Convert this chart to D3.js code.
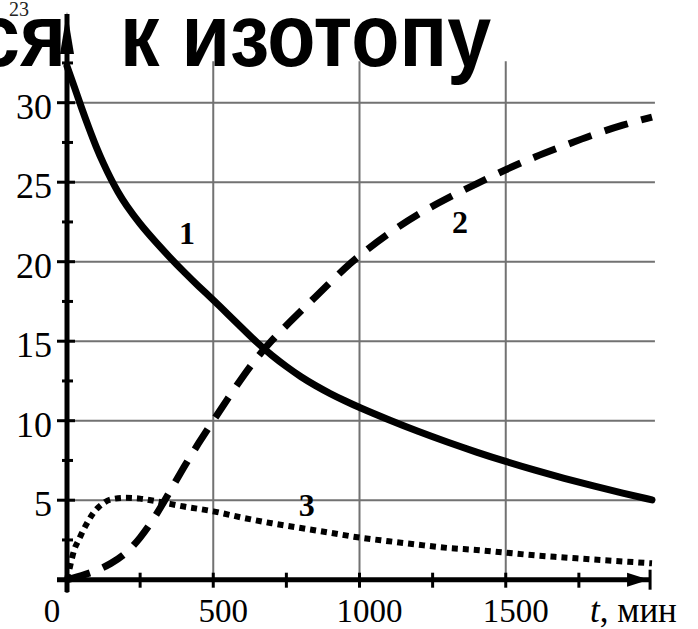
<!DOCTYPE html>
<html>
<head>
<meta charset="utf-8">
<script src="https://cdn.jsdelivr.net/npm/d3@7/dist/d3.min.js"></script>
<style>
  html, body { margin: 0; padding: 0; background: #fff; }
  svg { display: block; }
</style>
</head>
<body>
<svg id="chart" width="698" height="629"></svg>
<script>
// Time axis, minutes
const tGrid = [500, 1000, 1500];
const tTicks = [0, 250, 500, 750, 1000, 1250, 1500, 1750];
const tLabels = ["0", "500", "1000", "1500"];
// Amount axis, units of 10^23
const nGrid = [5, 10, 15, 20, 25, 30];
const nMinor = [2.5, 7.5, 12.5, 17.5, 22.5, 27.5, 32.5];
const nLabels = ["5", "10", "15", "20", "25", "30"];

// Curve 1: parent nuclide (solid)
const t1 = [0, 25, 50, 75, 100, 125, 150, 175, 200, 250, 300, 350, 400, 450, 500, 550, 600, 650, 700, 750, 800, 850, 900, 950, 1000, 1100, 1200, 1300, 1400, 1500, 1600, 1700, 1800, 1900, 2000];
const n1 = [32.3, 31.0, 29.65, 28.4, 27.2, 26.15, 25.2, 24.35, 23.6, 22.35, 21.3, 20.3, 19.35, 18.45, 17.6, 16.7, 15.8, 14.9, 14.1, 13.4, 12.75, 12.2, 11.7, 11.25, 10.82, 10.05, 9.32, 8.65, 8.02, 7.43, 6.88, 6.37, 5.89, 5.44, 5.02];
// Curve 2: final product (dashed)
const t2 = [0, 50, 100, 150, 200, 250, 300, 350, 400, 450, 500, 550, 600, 650, 700, 750, 800, 850, 900, 950, 1000, 1100, 1200, 1300, 1400, 1500, 1600, 1700, 1800, 1900, 2000];
const n2 = [0, 0.25, 0.55, 1.0, 1.6, 2.6, 3.9, 5.5, 7.1, 8.6, 10.0, 11.4, 12.75, 14.0, 15.05, 16.0, 16.9, 17.8, 18.7, 19.6, 20.4, 21.8, 23.0, 24.0, 24.9, 25.8, 26.6, 27.3, 28.0, 28.6, 29.1];
// Curve 3: intermediate nuclide (dotted)
const t3 = [0, 10, 25, 40, 50, 70, 90, 120, 150, 200, 250, 300, 400, 500, 600, 700, 800, 900, 1000, 1100, 1200, 1300, 1400, 1500, 1600, 1700, 1800, 1900, 2000];
const n3 = [0, 0.8, 1.9, 2.5, 2.9, 3.6, 4.2, 4.75, 5.05, 5.15, 5.1, 4.95, 4.6, 4.3, 3.9, 3.55, 3.25, 2.95, 2.65, 2.42, 2.2, 2.0, 1.87, 1.7, 1.53, 1.4, 1.27, 1.15, 1.03];

const curveNames = ["1", "2", "3"];
const curveLabelT = [410, 1344, 820];
const curveLabelN = [21.8, 22.5, 4.7];

const svg = d3.select("#chart");
const x = d3.scaleLinear().domain([0, 2000]).range([67, 652]);
const y = d3.scaleLinear().domain([0, 30]).range([579.7, 102.7]);

const serif = "'Liberation Serif', 'Times New Roman', serif";

// grid
const grid = svg.append("g").attr("stroke", "#727272").attr("stroke-width", 2);
grid.selectAll("line.h").data(nGrid).join("line")
  .attr("x1", x(0)).attr("x2", x(2010))
  .attr("y1", d => y(d)).attr("y2", d => y(d));
grid.selectAll("line.v").data(tGrid).join("line")
  .attr("x1", d => x(d)).attr("x2", d => x(d))
  .attr("y1", y(0)).attr("y2", y(32.6));

// curves
const line = d3.line().x(d => x(d[0])).y(d => y(d[1]));
const series = [
  { pts: d3.zip(t1, n1), dash: null, w: 7, cap: "round", curve: d3.curveBasis },
  { pts: d3.zip(t2, n2), dash: "24,14", w: 7, cap: "butt", curve: d3.curveBasis },
  { pts: d3.zip(t3, n3), dash: "6,5", w: 6, cap: "butt", curve: d3.curveMonotoneX }
];
svg.append("g").selectAll("path").data(series).join("path")
  .attr("d", d => line.curve(d.curve)(d.pts))
  .attr("fill", "none").attr("stroke", "#000")
  .attr("stroke-width", d => d.w)
  .attr("stroke-linecap", d => d.cap)
  .attr("stroke-dasharray", d => d.dash);

// axes
const ax = svg.append("g");
// x axis line with arrow and end bar
ax.append("line").attr("x1", 57).attr("x2", x(1990)).attr("y1", y(0)).attr("y2", y(0))
  .attr("stroke", "#000").attr("stroke-width", 5);
ax.append("path")
  .attr("d", `M${x(1990) - 22},${y(0) - 7} L${x(1990)},${y(0)} L${x(1990) - 22},${y(0) + 7} Z`)
  .attr("fill", "#000");
ax.append("line").attr("x1", x(1990) + 1).attr("x2", x(1990) + 1).attr("y1", y(0) - 10).attr("y2", y(0) + 10)
  .attr("stroke", "#000").attr("stroke-width", 3);
// y axis line with arrow
ax.append("line").attr("x1", x(0)).attr("x2", x(0)).attr("y1", 592).attr("y2", 14)
  .attr("stroke", "#000").attr("stroke-width", 5);
ax.append("path")
  .attr("d", `M${x(0) - 7},${54} L${x(0)},${12} L${x(0) + 7},${54} Z`)
  .attr("fill", "#000");

// x ticks
ax.selectAll("line.xt").data(tTicks).join("line")
  .attr("x1", d => x(d)).attr("x2", d => x(d))
  .attr("y1", y(0) - 7).attr("y2", d => d === 0 ? y(0) + 13 : y(0) + 8)
  .attr("stroke", "#000").attr("stroke-width", 3);
// y ticks
ax.selectAll("line.yt").data(nGrid).join("line")
  .attr("x1", x(0) - 10).attr("x2", x(0) + 8)
  .attr("y1", d => y(d)).attr("y2", d => y(d))
  .attr("stroke", "#000").attr("stroke-width", 3);
ax.selectAll("line.ym").data(nMinor).join("line")
  .attr("x1", x(0) - 5).attr("x2", x(0) + 6)
  .attr("y1", d => y(d)).attr("y2", d => y(d))
  .attr("stroke", "#000").attr("stroke-width", 3);

// tick labels
svg.append("g").selectAll("text").data(nGrid).join("text")
  .attr("x", 52).attr("y", d => y(d) + 16)
  .attr("text-anchor", "end")
  .attr("font-family", serif).attr("font-size", 36)
  .text((d, i) => nLabels[i]);
svg.append("g").selectAll("text").data([0, 500, 1000, 1500]).join("text")
  .attr("x", d => d === 0 ? 52 : x(d) + 10).attr("y", 622)
  .attr("text-anchor", "middle")
  .attr("font-family", serif).attr("font-size", 33)
  .text((d, i) => tLabels[i]);
const tl = svg.append("text").attr("x", 590).attr("y", 622)
  .attr("font-family", serif).attr("font-size", 35);
tl.append("tspan").attr("font-style", "italic").text("t");
tl.append("tspan").text(", мин");

// curve labels
svg.append("g").selectAll("text").data(curveNames).join("text")
  .attr("x", (d, i) => x(curveLabelT[i])).attr("y", (d, i) => y(curveLabelN[i]) + 11)
  .attr("text-anchor", "middle")
  .attr("font-family", serif).attr("font-weight", "bold").attr("font-size", 32)
  .text(d => d);

// unit exponent at the top of the vertical axis
svg.append("text").attr("x", 9).attr("y", 16)
  .attr("font-family", serif).attr("font-size", 20).attr("fill", "#222")
  .text("23");

// heading fragment above the plot
const head = svg.append("g")
  .attr("font-family", "'Liberation Sans', Arial, sans-serif")
  .attr("font-weight", "bold").attr("font-size", 79).attr("fill", "#000");
head.append("text").attr("transform", "translate(66,66) scale(1,1.12)")
  .attr("text-anchor", "end").text("ся");
head.append("text").attr("transform", "translate(120,66) scale(1,1.12)")
  .text("к изотопу");
</script>
</body>
</html>
